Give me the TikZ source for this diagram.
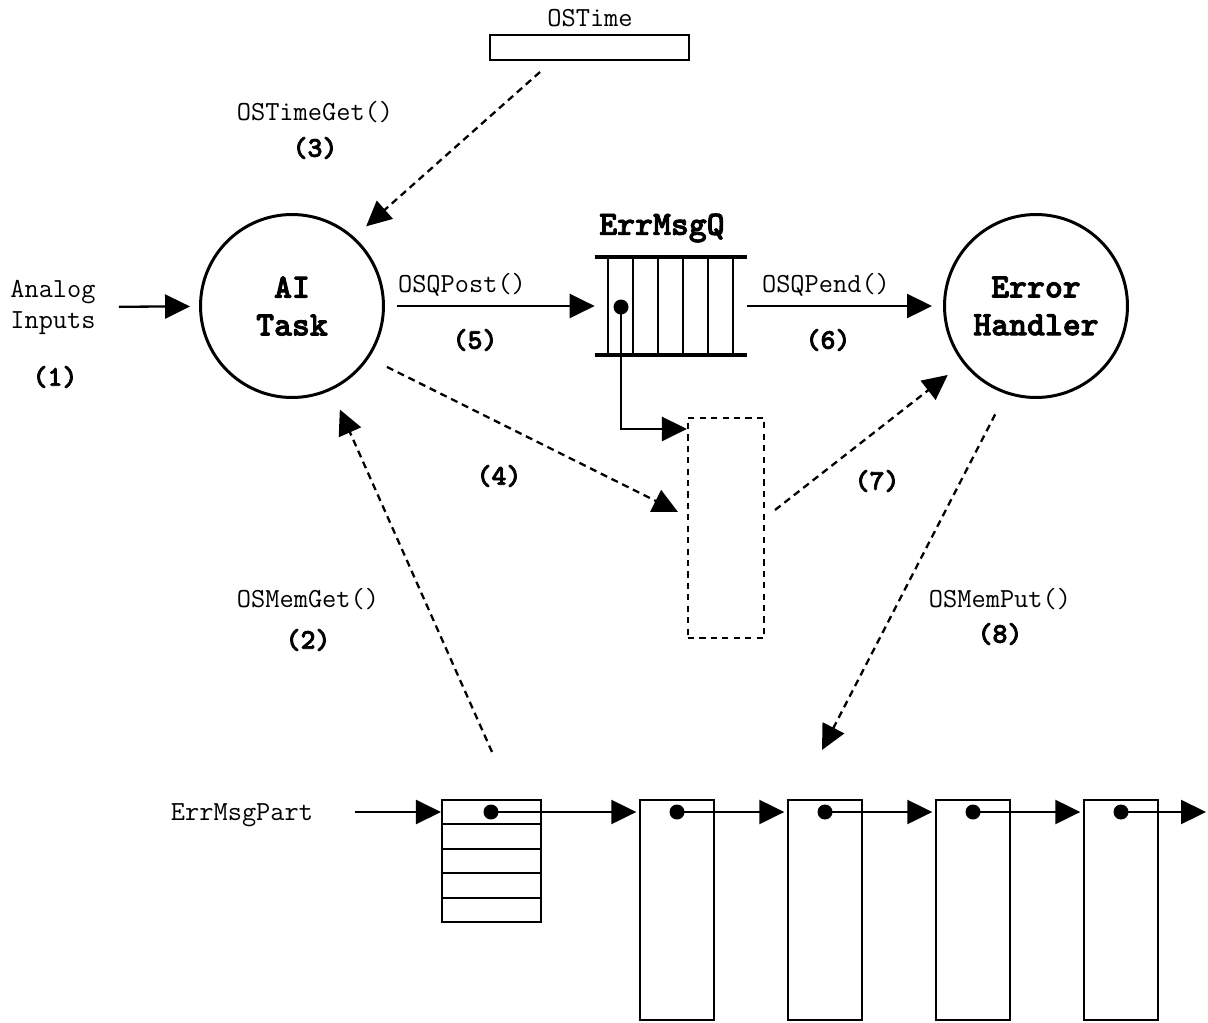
\documentclass[tikz,border=0pt]{standalone}
\usepackage{fontspec}
\newfontfamily\heavymono[FakeBold=2.5]{lmmonolt10-bold.otf}
\usetikzlibrary{arrows.meta,calc}
\tikzset{
  taskcircle/.style={draw,circle,line width=1.7pt,minimum size=3.66cm,align=center,
    font=\heavymono\fontsize{19.4}{21.5}\selectfont},
  calllabel/.style={font=\ttfamily\fontsize{15.7}{17.6}\selectfont,align=center},
  steplabel/.style={font=\heavymono\fontsize{16.2}{18}\selectfont},
  flowarrow/.style={-{Triangle[length=0.5cm,width=0.48cm]},line width=1.3pt},
  dasharrow/.style={flowarrow,dash pattern=on 4pt off 2.8pt},
  blockbox/.style={draw,line width=1.2pt,minimum width=1.48cm,minimum height=4.4cm,inner sep=0pt},
  linkdot/.style={circle,fill,inner sep=0pt,minimum size=0.3cm}
}
\begin{document}
\begin{tikzpicture}[x=0.02cm,y=-0.02cm]
  \useasboundingbox (0,0) rectangle (1208,1022);
  % tasks
  \node[taskcircle] (ai) at (292,306) {AI\\Task};
  \node[taskcircle] (eh) at (1036,306) {Error\\Handler};
  \node[calllabel] (analog) at (53,307) {Analog\\Inputs};
  \node[steplabel] (s1) at (55,377) {(1)};
  \draw[flowarrow,shorten <=0.34cm,shorten >=0.18cm] (analog) -- (ai);

  % OSTime
  \node[draw,line width=1.2pt,minimum width=3.98cm,minimum height=0.5cm,inner sep=0pt] (ostime) at (589.5,47.5) {};
  \node[calllabel] (ostimelbl) at (590,18) {OSTime};
  \node[calllabel] (timeget) at (315,112) {OSTimeGet()};
  \node[steplabel] (s3) at (315,148) {(3)};
  \coordinate (tget) at (540,72);
  \draw[dasharrow,shorten >=0.32cm] (tget) -- (ai.48);

  % message queue
  \node[minimum width=3.04cm,minimum height=1.96cm,inner sep=0pt] (errq) at (671,306) {};
  \node[font=\heavymono\fontsize{19.4}{21.5}\selectfont] (errqlbl) at (662,228) {ErrMsgQ};
  \draw[line width=2.3pt] (errq.north west) -- (errq.north east);
  \draw[line width=2.3pt] (errq.south west) -- (errq.south east);
  \foreach \x in {608,633,658,683,708,733}
    \draw[line width=1.2pt] (\x,257) -- (\x,355);
  \node[linkdot] (qdot) at (621,307) {};

  \draw[flowarrow,shorten <=0.24cm] (ai) -- (errq.west);
  \node[calllabel] (qpost) at (462,285) {OSQPost()};
  \node[steplabel] (s5) at (475,340) {(5)};
  \draw[flowarrow,shorten >=0.22cm] (errq.east) -- (eh.west);
  \node[calllabel] (qpend) at (826,285) {OSQPend()};
  \node[steplabel] (s6) at (828,340) {(6)};

  % message buffer
  \node[draw,line width=1.2pt,dash pattern=on 3.5pt off 3pt,minimum width=1.52cm,
    minimum height=4.4cm,inner sep=0pt] (buf) at (726,528) {};
  \draw[flowarrow] (qdot.center) |- ([yshift=-0.24cm]buf.north west);
  \coordinate (bufin) at (678,512);
  \coordinate (bufout) at (775,510);
  \draw[dasharrow,shorten <=0.4cm] (ai.-34) -- (bufin);
  \node[steplabel] (s4) at (499,476) {(4)};
  \draw[dasharrow,shorten >=0.38cm] (bufout) -- (eh.218);
  \node[steplabel] (s7) at (877,481) {(7)};

  % memory partition
  \coordinate (memget) at (492,752);
  \coordinate (memput) at (822,750);
  \draw[dasharrow,shorten >=0.42cm] (memget) -- (ai.-65);
  \node[calllabel] (memgetlbl) at (308,599) {OSMemGet()};
  \node[steplabel] (s2) at (308,640) {(2)};
  \draw[dasharrow,shorten <=0.46cm] (eh.-109) -- (memput);
  \node[calllabel] (memputlbl) at (1000,599) {OSMemPut()};
  \node[steplabel] (s8) at (1000,634) {(8)};

  \node[calllabel] (partlbl) at (242,815) {ErrMsgPart};
  \node[draw,line width=1.2pt,minimum width=1.98cm,minimum height=2.44cm,inner sep=0pt] (part) at (491.5,861) {};
  \foreach \k in {1,...,4}
    \draw[line width=1.2pt] ($(part.north west)!\k/5!(part.south west)$) -- ($(part.north east)!\k/5!(part.south east)$);
  \node[linkdot] (d0) at (491,812) {};
  \draw[flowarrow] (355,812) -- (d0 -| part.west);

  \foreach \x [count=\i] in {677,825,973,1121} {
    \node[blockbox] (blk\i) at (\x,910) {};
    \node[linkdot] (d\i) at (\x,812) {};
  }
  \foreach \i/\j in {0/1,1/2,2/3,3/4}
    \draw[flowarrow,shorten >=1.5pt] (d\i.center) -- (d\i -| blk\j.west);
  \coordinate (tail) at (1206,812);
  \draw[flowarrow] (d4.center) -- (tail);
\end{tikzpicture}
\end{document}
